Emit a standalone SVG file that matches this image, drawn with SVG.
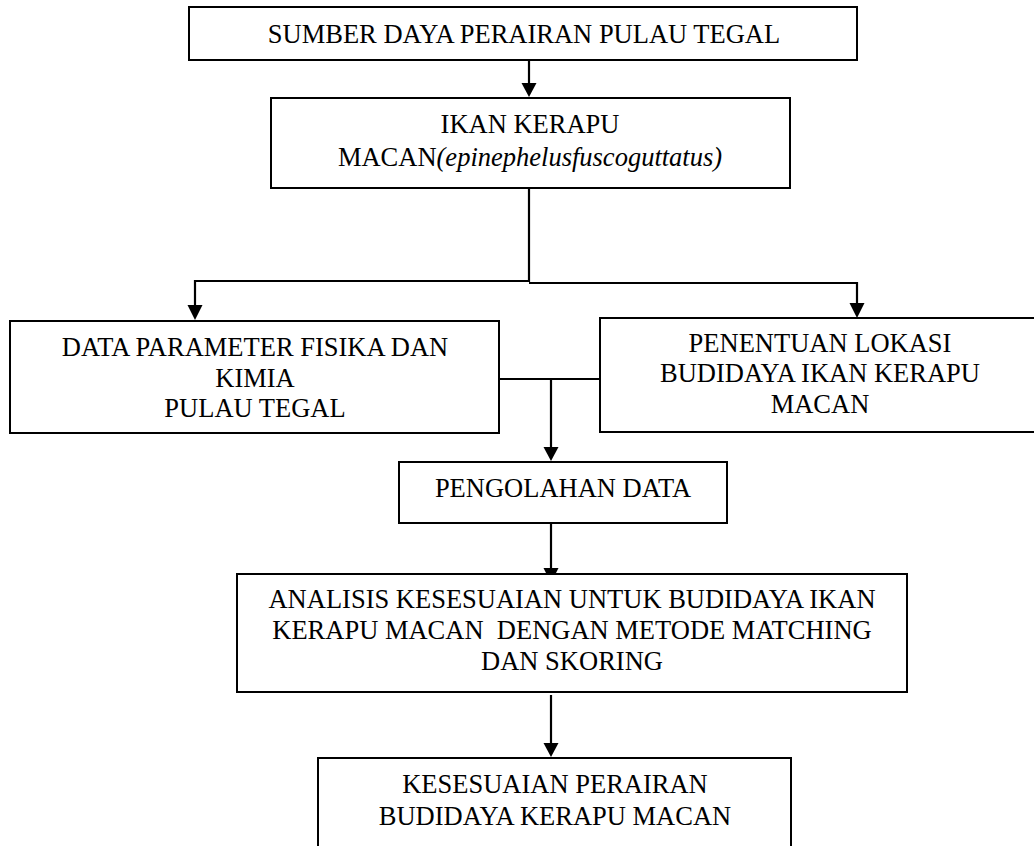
<svg xmlns="http://www.w3.org/2000/svg" width="1034" height="846" viewBox="0 0 1034 846">
<style>
.box{fill:#fff;stroke:#000;stroke-width:2}
.t{font-family:"Liberation Serif","Times New Roman",serif;font-size:26.5px;fill:#000;text-anchor:middle;white-space:pre}
.c{fill:none;stroke:#000;stroke-width:2.2}
.ah{fill:#000}
</style>
<rect width="1034" height="846" fill="#fff"/>
<g id="connectors">
<path class="c" d="M529,60 V84"/>
<polygon class="ah" points="521.5,83 536.5,83 529,97"/>
<path class="c" d="M529,188 V281 H195 V306"/>
<polygon class="ah" points="187.5,305 202.5,305 195,320"/>
<path class="c" d="M529,283 H857 V304"/>
<polygon class="ah" points="849.5,303 864.5,303 857,318"/>
<path class="c" d="M499,379 H600 M551,379 V448"/>
<polygon class="ah" points="543.5,447 558.5,447 551,461"/>
<path class="c" d="M551,523 V570"/>
<polygon class="ah" points="543.5,568 558.5,568 551,583"/>
<path class="c" d="M551,695 V744"/>
<polygon class="ah" points="543.5,743 558.5,743 551,757"/>
</g>
<g id="n1">
<rect class="box" x="189" y="7" width="668" height="53"/>
<text class="t" x="524" y="43">SUMBER DAYA PERAIRAN PULAU TEGAL</text>
</g>
<g id="n2">
<rect class="box" x="271" y="98" width="519" height="90"/>
<text class="t" x="530" y="133">IKAN KERAPU</text>
<text class="t" x="530" y="166">MACAN<tspan font-style="italic">(epinephelusfuscoguttatus)</tspan></text>
</g>
<g id="n3">
<rect class="box" x="10" y="321" width="489" height="112"/>
<text class="t" x="255" y="356">DATA PARAMETER FISIKA DAN</text>
<text class="t" x="255" y="387">KIMIA</text>
<text class="t" x="255" y="417">PULAU TEGAL</text>
</g>
<g id="n4">
<rect class="box" x="600" y="318" width="440" height="114"/>
<text class="t" x="820" y="352">PENENTUAN LOKASI</text>
<text class="t" x="820" y="382">BUDIDAYA IKAN KERAPU</text>
<text class="t" x="820" y="413">MACAN</text>
</g>
<g id="n5">
<rect class="box" x="399" y="462" width="328" height="61"/>
<text class="t" x="563" y="497">PENGOLAHAN DATA</text>
</g>
<g id="n6">
<rect class="box" x="237" y="574" width="670" height="118"/>
<text class="t" x="572" y="608">ANALISIS KESESUAIAN UNTUK BUDIDAYA IKAN</text>
<text class="t" x="572" y="639">KERAPU MACAN  DENGAN METODE MATCHING</text>
<text class="t" x="572" y="670">DAN SKORING</text>
</g>
<g id="n7">
<rect class="box" x="318" y="758" width="473" height="100"/>
<text class="t" x="555" y="793">KESESUAIAN PERAIRAN</text>
<text class="t" x="555" y="825">BUDIDAYA KERAPU MACAN</text>
</g>
</svg>
